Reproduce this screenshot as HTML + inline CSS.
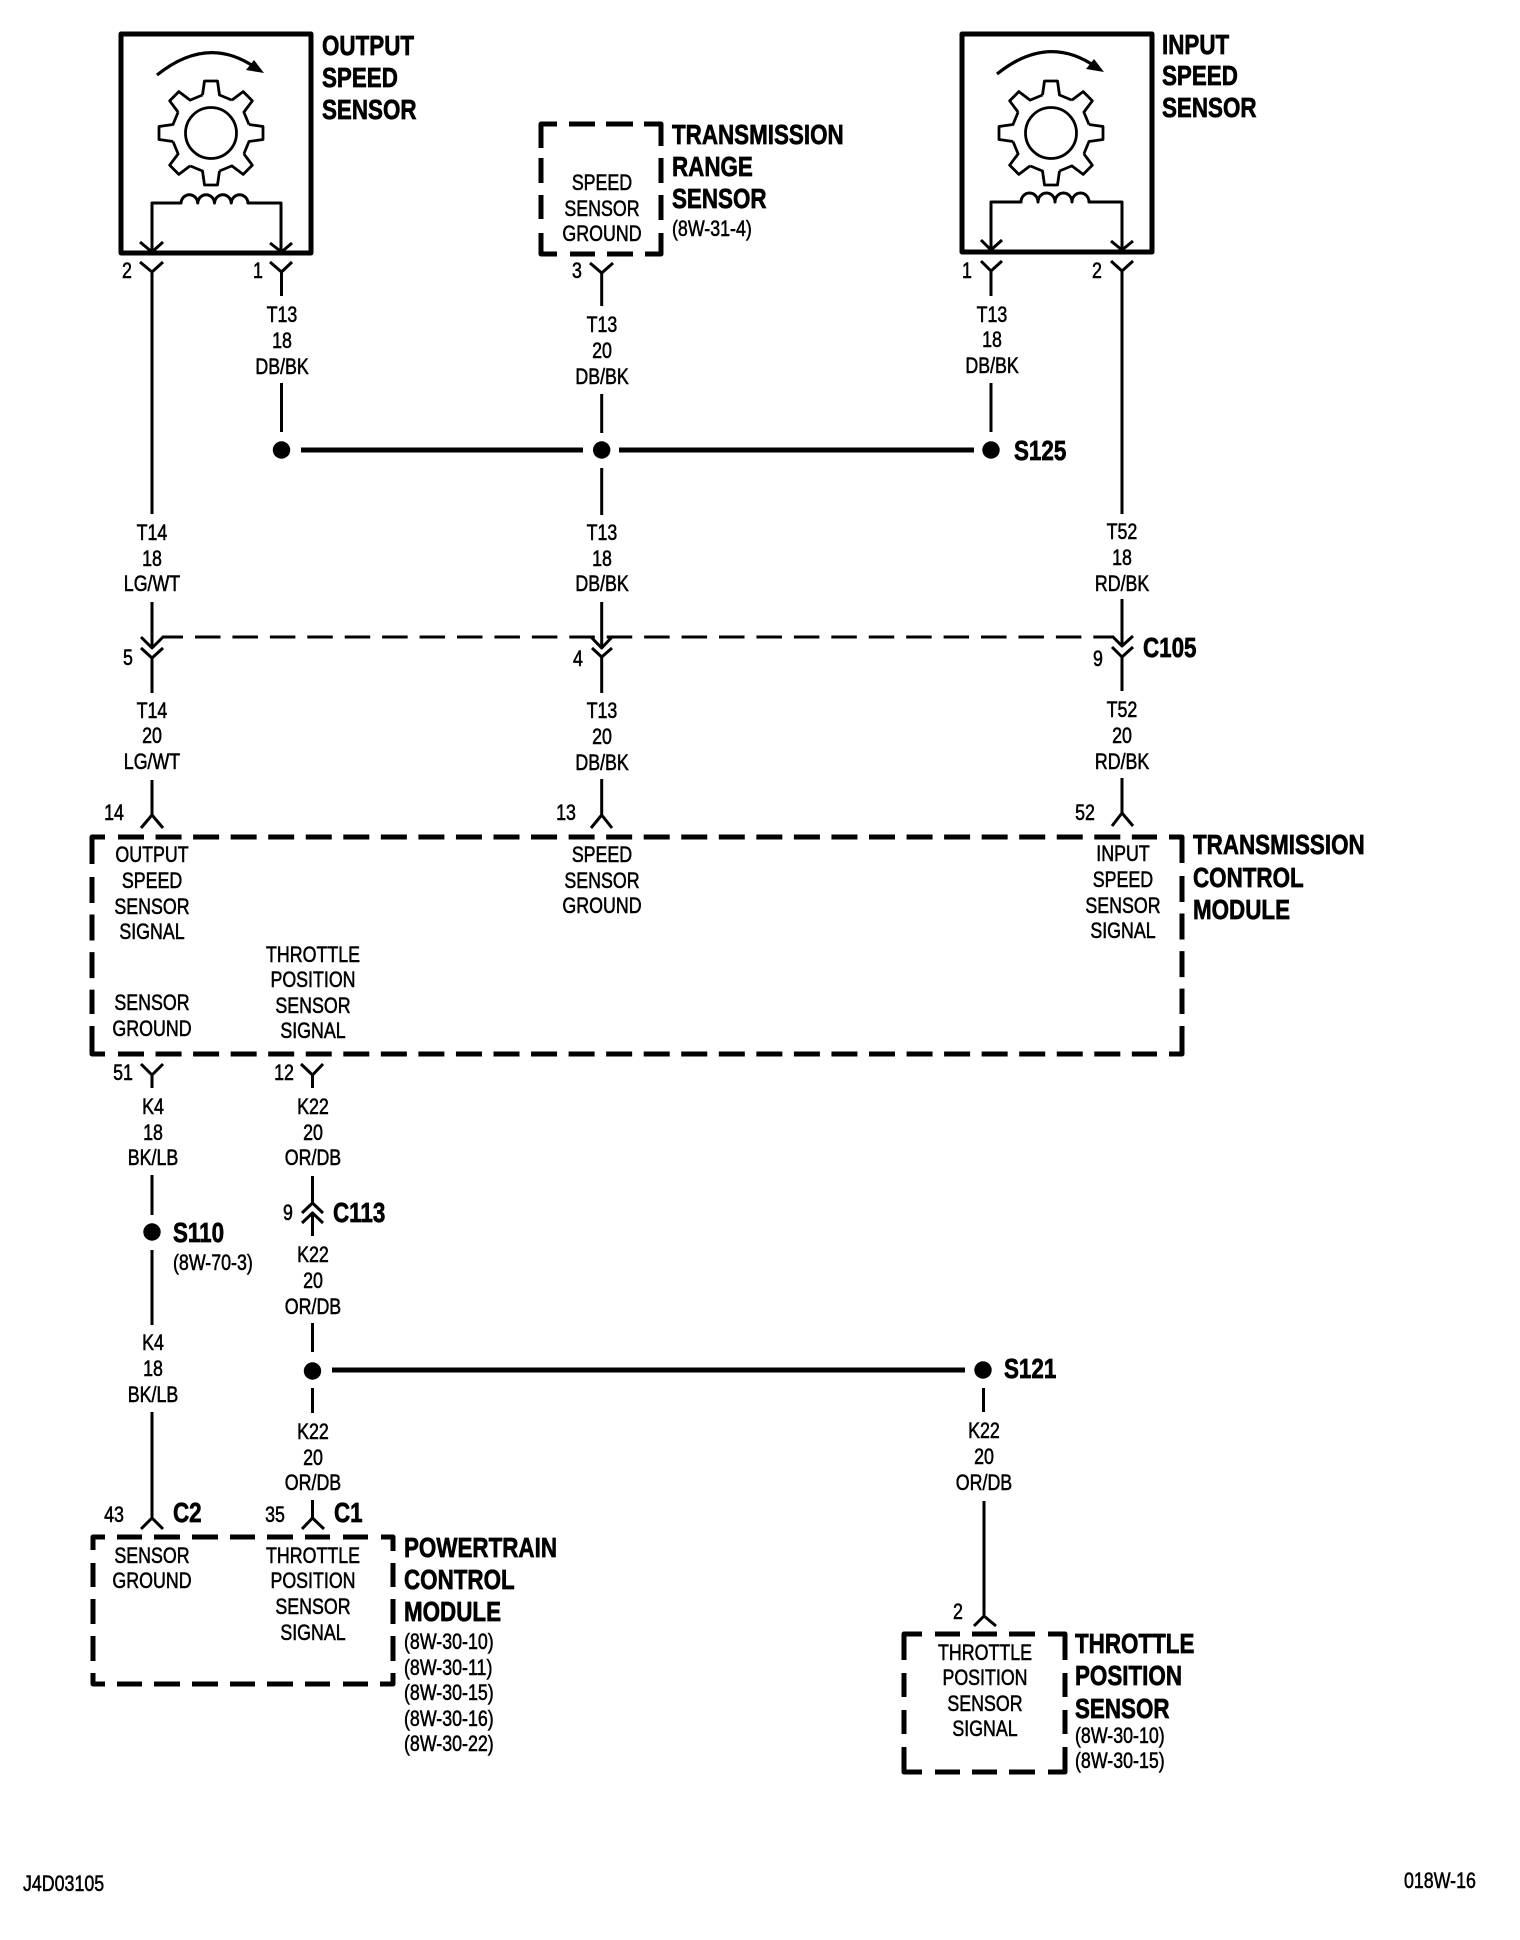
<!DOCTYPE html>
<html><head><meta charset="utf-8"><title>Diagram</title>
<style>
html,body{margin:0;padding:0;background:#fff;width:1520px;height:1940px;overflow:hidden}
svg{display:block}
text{font-family:"Liberation Sans",sans-serif;fill:#000}
.c,.l{font-size:22px;stroke:#000;stroke-width:.55px;transform-box:fill-box}
.c{text-anchor:middle;transform-origin:50% 50%;transform:scaleX(.81)}
.l{transform-origin:0 50%;transform:scaleX(.81)}
.b{font-size:28px;font-weight:bold;stroke:#000;stroke-width:.7px;transform-box:fill-box;transform-origin:0 50%;transform:scaleX(.8)}
.w{fill:none;stroke:#000;stroke-width:3;stroke-linejoin:round}
.k{fill:none;stroke:#000;stroke-width:5;stroke-linejoin:round}
.d{fill:none;stroke:#000;stroke-width:5;stroke-dasharray:26 11.55}
.g{fill:none;stroke:#000;stroke-width:2.8;stroke-linejoin:round}
.a{fill:none;stroke:#000;stroke-width:3.2}
</style></head><body>
<svg width="1520" height="1940" viewBox="0 0 1520 1940" xmlns="http://www.w3.org/2000/svg">
<defs>
<g id="gear">
<circle r="25.5" class="g"/>
<g id="t"><path class="g" d="M-8.5,-38 L-6.5,-52 H6.5 L8.5,-38 L20.86,-32.88"/></g>
<use href="#t" transform="rotate(45)"/><use href="#t" transform="rotate(90)"/><use href="#t" transform="rotate(135)"/>
<use href="#t" transform="rotate(180)"/><use href="#t" transform="rotate(225)"/><use href="#t" transform="rotate(270)"/><use href="#t" transform="rotate(315)"/>
</g>
</defs>

<!-- Sensor boxes -->
<rect x="121" y="34" width="190" height="219" class="k"/>
<rect x="962" y="34" width="190" height="218" class="k"/>
<use href="#gear" x="211" y="133"/>
<use href="#gear" x="1051" y="133"/>
<path class="a" d="M157,75 Q208,34 256,68"/>
<polygon points="264,73 246,70 254,60"/>
<path class="a" d="M997,74 Q1048,33 1096,67"/>
<polygon points="1104,72 1086,69 1094,59"/>
<path class="w" d="M152,253 V203 H181 a8.4,9 0 0 1 16.75,0 a8.4,9 0 0 1 16.75,0 a8.4,9 0 0 1 16.75,0 a8.4,9 0 0 1 16.75,0 H281 V253"/>
<path class="w" d="M991,252 V202 H1021 a8.5,9 0 0 1 17,0 a8.5,9 0 0 1 17,0 a8.5,9 0 0 1 17,0 a8.5,9 0 0 1 17,0 H1122 V252"/>

<!-- Range sensor dashed box -->
<path class="k" d="M541,148 V124 H557 M569,124 H595 M606,124 H633 M644,124 H661 V146 M661,158 V183 M661,195 V220 M661,233 V254 H645 M633,254 H607 M595,254 H570 M557,254 H541 V233 M541,219 V195 M541,183 V158"/>

<!-- Y connectors -->
<path class="w" d="M140,242 L152,252 L163,242 M270,243 L281.5,252 L292,243 M981,240 L991,250 L1002,240 M1111,241 L1122,250 L1133,241"/>
<path class="w" d="M140,262 L152,272 L163,262 M270,262 L281.5,272 L292,262 M590,263 L601.7,273 L613,263 M981,261 L991,271 L1002,261 M1111,261 L1122,271 L1133,261"/>

<!-- Wires column A -->
<path class="w" d="M152,272 V514 M152,602 V647 M152,657 V693 M152,780 V817 M141,828 L152,815 L163,828"/>
<path class="w" d="M141,637 L152,648 L163,637 M141,648 L152,658 L163,648"/>
<!-- column B -->
<path class="w" d="M281.5,272 V296 M281.5,383 V432"/>
<!-- column C -->
<path class="w" d="M601.7,273 V306 M601.7,394 V433 M601.7,468 V515 M601.7,602 V647 M601.7,657 V693 M601.7,779 V815 M591,828 L601.7,815 L612,828"/>
<path class="w" d="M591,637 L601.7,648 L612,637 M592,648 L601.7,657 L612,648"/>
<!-- column D -->
<path class="w" d="M991,271 V296 M991,383 V432"/>
<!-- column E -->
<path class="w" d="M1122,271 V514 M1122,599 V646 M1122,657 V691 M1122,778 V813 M1112,826 L1122,813 L1133,826"/>
<path class="w" d="M1112,636 L1122,646 L1133,636 M1112,647 L1122,657 L1133,647"/>

<!-- S125 bus -->
<path class="k" d="M301,450 H583 M619,450 H974"/>
<circle cx="281.5" cy="450" r="8.7"/><circle cx="601.7" cy="450" r="8.7"/><circle cx="991" cy="450" r="8.7"/>

<!-- C105 dashed line -->
<path class="w" d="M162,637 H183"/>
<path class="w" style="stroke-dasharray:25.5 11.93" d="M195,637 H1112"/>

<!-- Transmission module dashed box -->
<path class="d" d="M118,837 H1157"/>
<path class="d" d="M118,1054 H1157"/>
<path class="d" d="M92,877 V1014"/>
<path class="d" d="M1182,876 V1014"/>
<path class="k" d="M92,864 V837 H105 M1169,837 H1182 V863 M92,1026 V1054 H105 M1169,1054 H1182 V1026"/>

<!-- Below module -->
<path class="w" d="M141,1064 L152,1075 L163,1064 M152,1075 V1088 M152,1175 V1215 M152,1250 V1325 M152,1412 V1518 M141,1529 L152,1518 L163,1529"/>
<circle cx="152" cy="1232" r="8.7"/>
<path class="w" d="M301,1064 L312.5,1075 L323,1064 M312.5,1075 V1088 M312.5,1176 V1203 M302,1213 L312.5,1203 L323,1213 M302,1223 L312.5,1213 L323,1223 M312.5,1213 V1236 M312.5,1323 V1352 M312.5,1388 V1413 M312.5,1500 V1518 M302,1529 L312.5,1518 L324,1529"/>
<circle cx="312.5" cy="1371" r="8.7"/>
<path class="k" d="M332,1370 H965"/>
<circle cx="983" cy="1370" r="8.7"/>
<path class="w" d="M983.5,1388 V1412 M984,1501 V1616 M974,1626 L984,1616 L996,1626"/>

<!-- PCM dashed box -->
<path class="k" d="M93,1550 V1537 H105 M117,1537 H142 M154,1537 H180 M192,1537 H218 M230,1537 H255 M267,1537 H293 M305,1537 H330 M343,1537 H368 M381,1537 H393 V1551 M393,1563 V1587 M393,1599 V1624 M393,1636 V1661 M393,1673 V1684 H380 M368,1684 H343 M330,1684 H305 M293,1684 H267 M255,1684 H230 M218,1684 H192 M180,1684 H154 M142,1684 H117 M105,1684 H93 V1673 M93,1661 V1636 M93,1624 V1599 M93,1587 V1563"/>

<!-- TPS dashed box -->
<path class="k" d="M904,1660 V1634 H922 M935,1634 H960 M972,1634 H997 M1009,1634 H1035 M1048,1634 H1065 V1660 M1065,1673 V1697 M1065,1710 V1734 M1065,1747 V1772 H1048 M1035,1772 H1009 M997,1772 H972 M960,1772 H935 M922,1772 H904 V1747 M904,1734 V1710 M904,1697 V1673"/>

<!-- Titles -->
<text class="b" x="322" y="55">OUTPUT</text><text class="b" x="322" y="87">SPEED</text><text class="b" x="322" y="119">SENSOR</text>
<text class="b" x="1162" y="54">INPUT</text><text class="b" x="1162" y="85">SPEED</text><text class="b" x="1162" y="117">SENSOR</text>
<text class="b" x="672" y="144">TRANSMISSION</text><text class="b" x="672" y="176">RANGE</text><text class="b" x="672" y="208">SENSOR</text>
<text class="l" x="672" y="236">(8W-31-4)</text>
<text class="b" x="1014" y="460">S125</text>
<text class="b" x="1143" y="657">C105</text>
<text class="b" x="1193" y="854">TRANSMISSION</text><text class="b" x="1193" y="887">CONTROL</text><text class="b" x="1193" y="919">MODULE</text>
<text class="b" x="173" y="1242">S110</text><text class="l" x="173" y="1270">(8W-70-3)</text>
<text class="b" x="333" y="1222">C113</text>
<text class="b" x="1004" y="1378">S121</text>
<text class="b" x="173" y="1522">C2</text><text class="b" x="334" y="1522">C1</text>
<text class="b" x="404" y="1557">POWERTRAIN</text><text class="b" x="404" y="1589">CONTROL</text><text class="b" x="404" y="1621">MODULE</text>
<text class="l" x="404" y="1649">(8W-30-10)</text><text class="l" x="404" y="1675">(8W-30-11)</text><text class="l" x="404" y="1700">(8W-30-15)</text><text class="l" x="404" y="1726">(8W-30-16)</text><text class="l" x="404" y="1751">(8W-30-22)</text>
<text class="b" x="1075" y="1653">THROTTLE</text><text class="b" x="1075" y="1685">POSITION</text><text class="b" x="1075" y="1718">SENSOR</text>
<text class="l" x="1075" y="1743">(8W-30-10)</text><text class="l" x="1075" y="1768">(8W-30-15)</text>

<!-- Pin numbers -->
<text class="c" x="127" y="278">2</text><text class="c" x="258" y="278">1</text><text class="c" x="577" y="278">3</text><text class="c" x="967" y="278">1</text><text class="c" x="1097" y="278">2</text>
<text class="c" x="128" y="665">5</text><text class="c" x="578" y="666">4</text><text class="c" x="1098" y="666">9</text>
<text class="c" x="114" y="820">14</text><text class="c" x="566" y="820">13</text><text class="c" x="1085" y="820">52</text>
<text class="c" x="123" y="1080">51</text><text class="c" x="284" y="1080">12</text><text class="c" x="288" y="1220">9</text>
<text class="c" x="114" y="1522">43</text><text class="c" x="275" y="1522">35</text><text class="c" x="958" y="1619">2</text>

<!-- Wire labels -->
<text class="c" x="282" y="322">T13</text><text class="c" x="282" y="348">18</text><text class="c" x="282" y="374">DB/BK</text>
<text class="c" x="602" y="332">T13</text><text class="c" x="602" y="358">20</text><text class="c" x="602" y="384">DB/BK</text>
<text class="c" x="992" y="322">T13</text><text class="c" x="992" y="347">18</text><text class="c" x="992" y="373">DB/BK</text>
<text class="c" x="152" y="540">T14</text><text class="c" x="152" y="566">18</text><text class="c" x="152" y="591">LG/WT</text>
<text class="c" x="602" y="540">T13</text><text class="c" x="602" y="566">18</text><text class="c" x="602" y="591">DB/BK</text>
<text class="c" x="1122" y="539">T52</text><text class="c" x="1122" y="565">18</text><text class="c" x="1122" y="591">RD/BK</text>
<text class="c" x="152" y="718">T14</text><text class="c" x="152" y="743">20</text><text class="c" x="152" y="769">LG/WT</text>
<text class="c" x="602" y="718">T13</text><text class="c" x="602" y="744">20</text><text class="c" x="602" y="770">DB/BK</text>
<text class="c" x="1122" y="717">T52</text><text class="c" x="1122" y="743">20</text><text class="c" x="1122" y="769">RD/BK</text>
<text class="c" x="153" y="1114">K4</text><text class="c" x="153" y="1140">18</text><text class="c" x="153" y="1165">BK/LB</text>
<text class="c" x="153" y="1350">K4</text><text class="c" x="153" y="1376">18</text><text class="c" x="153" y="1402">BK/LB</text>
<text class="c" x="313" y="1114">K22</text><text class="c" x="313" y="1140">20</text><text class="c" x="313" y="1165">OR/DB</text>
<text class="c" x="313" y="1262">K22</text><text class="c" x="313" y="1288">20</text><text class="c" x="313" y="1314">OR/DB</text>
<text class="c" x="313" y="1439">K22</text><text class="c" x="313" y="1465">20</text><text class="c" x="313" y="1490">OR/DB</text>
<text class="c" x="984" y="1438">K22</text><text class="c" x="984" y="1464">20</text><text class="c" x="984" y="1490">OR/DB</text>

<!-- Box text -->
<text class="c" x="602" y="190">SPEED</text><text class="c" x="602" y="216">SENSOR</text><text class="c" x="602" y="241">GROUND</text>
<text class="c" x="152" y="862">OUTPUT</text><text class="c" x="152" y="888">SPEED</text><text class="c" x="152" y="914">SENSOR</text><text class="c" x="152" y="939">SIGNAL</text>
<text class="c" x="152" y="1010">SENSOR</text><text class="c" x="152" y="1036">GROUND</text>
<text class="c" x="313" y="962">THROTTLE</text><text class="c" x="313" y="987">POSITION</text><text class="c" x="313" y="1013">SENSOR</text><text class="c" x="313" y="1038">SIGNAL</text>
<text class="c" x="602" y="862">SPEED</text><text class="c" x="602" y="888">SENSOR</text><text class="c" x="602" y="913">GROUND</text>
<text class="c" x="1123" y="861">INPUT</text><text class="c" x="1123" y="887">SPEED</text><text class="c" x="1123" y="913">SENSOR</text><text class="c" x="1123" y="938">SIGNAL</text>
<text class="c" x="152" y="1563">SENSOR</text><text class="c" x="152" y="1588">GROUND</text>
<text class="c" x="313" y="1563">THROTTLE</text><text class="c" x="313" y="1588">POSITION</text><text class="c" x="313" y="1614">SENSOR</text><text class="c" x="313" y="1640">SIGNAL</text>
<text class="c" x="985" y="1660">THROTTLE</text><text class="c" x="985" y="1685">POSITION</text><text class="c" x="985" y="1711">SENSOR</text><text class="c" x="985" y="1736">SIGNAL</text>

<!-- Footer -->
<text class="l" x="23" y="1891">J4D03105</text>
<text class="l" x="1404" y="1888">018W-16</text>
</svg>
</body></html>
